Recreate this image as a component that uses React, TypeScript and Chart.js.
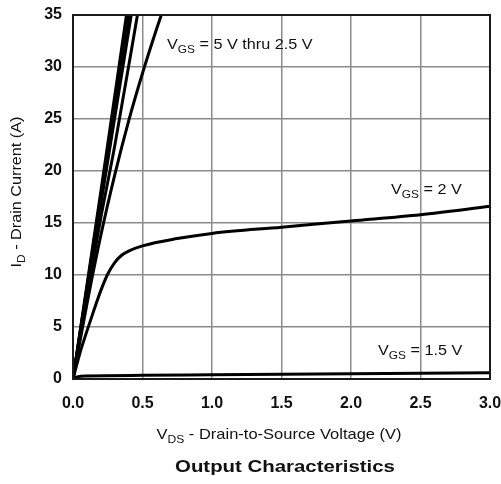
import React, { useEffect, useRef } from "react";
import { Chart, registerables } from "chart.js";

Chart.register(...registerables);

// Tick values
const xTicks = [0, 0.5, 1.0, 1.5, 2.0, 2.5, 3.0];
const yTicks = [0, 5, 10, 15, 20, 25, 30, 35];

// VGS = 5 V .. 2.5 V (steep lines)
const v5 = [0, 0.2, 0.39];
const i5 = [0, 18.0, 35.5];
const v45 = [0, 0.2, 0.4];
const i45 = [0, 17.6, 35.5];
const v4 = [0, 0.2, 0.41];
const i4 = [0, 17.2, 35.5];
const v35 = [0, 0.2, 0.425];
const i35 = [0, 16.8, 35.5];
const v3 = [0, 0.1, 0.2, 0.3, 0.47];
const i3 = [0, 8.0, 15.5, 22.4, 35.5];
const v25 = [0, 0.1, 0.2, 0.3, 0.4, 0.5, 0.6, 0.65];
const i25 = [0, 7.2, 13.8, 19.6, 24.8, 29.4, 33.6, 35.6];
// VGS = 2 V
const v2 = [0, 0.05, 0.1, 0.15, 0.2, 0.25, 0.3, 0.35, 0.4, 0.5, 0.75, 1.0, 1.5, 2.0, 2.5, 3.0];
const i2 = [0, 2.5, 4.6, 6.6, 8.5, 10.1, 11.2, 11.9, 12.3, 12.8, 13.5, 14.0, 14.6, 15.2, 15.8, 16.6];
// VGS = 1.5 V
const v15 = [0, 0.03, 0.1, 0.5, 1.0, 2.0, 3.0];
const i15 = [0, 0.2, 0.3, 0.35, 0.4, 0.5, 0.6];

const series = [
  { label: "5 V", v: v5, i: i5 },
  { label: "4.5 V", v: v45, i: i45 },
  { label: "4 V", v: v4, i: i4 },
  { label: "3.5 V", v: v35, i: i35 },
  { label: "3 V", v: v3, i: i3 },
  { label: "2.5 V", v: v25, i: i25 },
  { label: "2 V", v: v2, i: i2 },
  { label: "1.5 V", v: v15, i: i15 },
];

const xTitle = [{ t: "V" }, { t: "DS", sub: true }, { t: " - Drain-to-Source Voltage (V)" }];
const yTitle = [{ t: "I" }, { t: "D", sub: true }, { t: " - Drain Current (A)" }];
const chartTitle = "Output Characteristics";
const notes = [
  { parts: [{ t: "V" }, { t: "GS", sub: true }, { t: " = 5 V thru 2.5 V" }], x: 167, y: 45 },
  { parts: [{ t: "V" }, { t: "GS", sub: true }, { t: " = 2 V" }], x: 391, y: 190 },
  { parts: [{ t: "V" }, { t: "GS", sub: true }, { t: " = 1.5 V" }], x: 378, y: 351 },
];

type Part = { t: string; sub?: boolean };
const FONT = "'Liberation Sans', Arial, sans-serif";

function measureParts(ctx: CanvasRenderingContext2D, parts: Part[], size: number) {
  let w = 0;
  for (const p of parts) {
    ctx.font = `${p.sub ? Math.round(size * 0.75) : size}px ${FONT}`;
    w += ctx.measureText(p.t).width;
  }
  return w;
}

// draws parts starting at local (0, 0) after the caller has set transform
function drawParts(ctx: CanvasRenderingContext2D, parts: Part[], size: number) {
  let cx = 0;
  ctx.textBaseline = "middle";
  ctx.textAlign = "left";
  for (const p of parts) {
    const s = p.sub ? Math.round(size * 0.75) : size;
    ctx.font = `${s}px ${FONT}`;
    ctx.fillText(p.t, cx, p.sub ? size * 0.3 : 0);
    cx += ctx.measureText(p.t).width;
  }
}

function drawStretched(
  ctx: CanvasRenderingContext2D, parts: Part[], size: number, stretch: number,
  x: number, y: number, centered: boolean, rotate = false,
) {
  const w = measureParts(ctx, parts, size);
  ctx.save();
  ctx.translate(x, y);
  if (rotate) ctx.rotate(-Math.PI / 2);
  ctx.scale(stretch, 1);
  if (centered) ctx.translate(-w / 2, 0);
  drawParts(ctx, parts, size);
  ctx.restore();
}

const textPlugin = {
  id: "textPlugin",
  afterDraw(chart: any) {
    const ctx: CanvasRenderingContext2D = chart.ctx;
    const a = chart.chartArea;
    ctx.save();
    // frame
    ctx.strokeStyle = "#1a1a1a";
    ctx.lineWidth = 2;
    ctx.strokeRect(a.left, a.top, a.right - a.left, a.bottom - a.top);
    ctx.fillStyle = "#111";
    // annotations
    for (const n of notes) drawStretched(ctx, n.parts, 15, 1.08, n.x, n.y, false);
    // x title
    drawStretched(ctx, xTitle, 15, 1.1, 279, 435, true);
    // y title
    drawStretched(ctx, yTitle, 15, 1.08, 17, 192, true, true);
    // chart title
    ctx.save();
    ctx.translate(285, 467);
    ctx.scale(1.2, 1);
    ctx.font = `bold 17px ${FONT}`;
    ctx.textAlign = "center";
    ctx.textBaseline = "middle";
    ctx.fillText(chartTitle, 0, 0);
    ctx.restore();
    ctx.restore();
  },
};

export default function App() {
  const ref = useRef<HTMLCanvasElement | null>(null);
  useEffect(() => {
    document.body.style.margin = "0";
    if (!ref.current) return;
    const chart = new Chart(ref.current, {
      type: "scatter",
      data: {
        datasets: series.map((s) => ({
          label: s.label,
          data: s.v.map((v, k) => ({ x: v, y: s.i[k] })),
          showLine: true,
          borderColor: "#000",
          backgroundColor: "#000",
          borderWidth: 3,
          pointRadius: 0,
          cubicInterpolationMode: "monotone" as const,
          clip: 0,
        })),
      },
      options: {
        animation: false,
        responsive: true,
        maintainAspectRatio: false,
        layout: { padding: { top: 15, right: 11, left: 0, bottom: 0 } },
        plugins: { legend: { display: false }, tooltip: { enabled: false }, title: { display: false } },
        scales: {
          x: {
            type: "linear",
            min: 0,
            max: 3,
            afterFit: (s: any) => { s.height = 105; s.paddingLeft = 0; s.paddingRight = 0; },
            afterBuildTicks: (s: any) => { s.ticks = xTicks.map((v) => ({ value: v })); },
            ticks: {
              padding: 15,
              color: "#111",
              font: { family: FONT, size: 16, weight: "bold" },
              callback: (v: any) => Number(v).toFixed(1),
            },
            grid: { color: "#8c8c8c", lineWidth: 1.5, drawTicks: false },
            border: { display: false },
          },
          y: {
            type: "linear",
            min: 0,
            max: 35,
            afterFit: (s: any) => { s.width = 73; s.paddingTop = 0; s.paddingBottom = 0; },
            afterBuildTicks: (s: any) => { s.ticks = yTicks.map((v) => ({ value: v })); },
            ticks: {
              padding: 11,
              color: "#111",
              font: { family: FONT, size: 16, weight: "bold" },
              callback: (v: any) => String(v),
            },
            grid: { color: "#8c8c8c", lineWidth: 1.5, drawTicks: false },
            border: { display: false },
          },
        },
      },
      plugins: [textPlugin],
    });
    return () => chart.destroy();
  }, []);
  return (
    <div style={{ position: "relative", width: 501, height: 484 }}>
      <canvas ref={ref} />
    </div>
  );
}
